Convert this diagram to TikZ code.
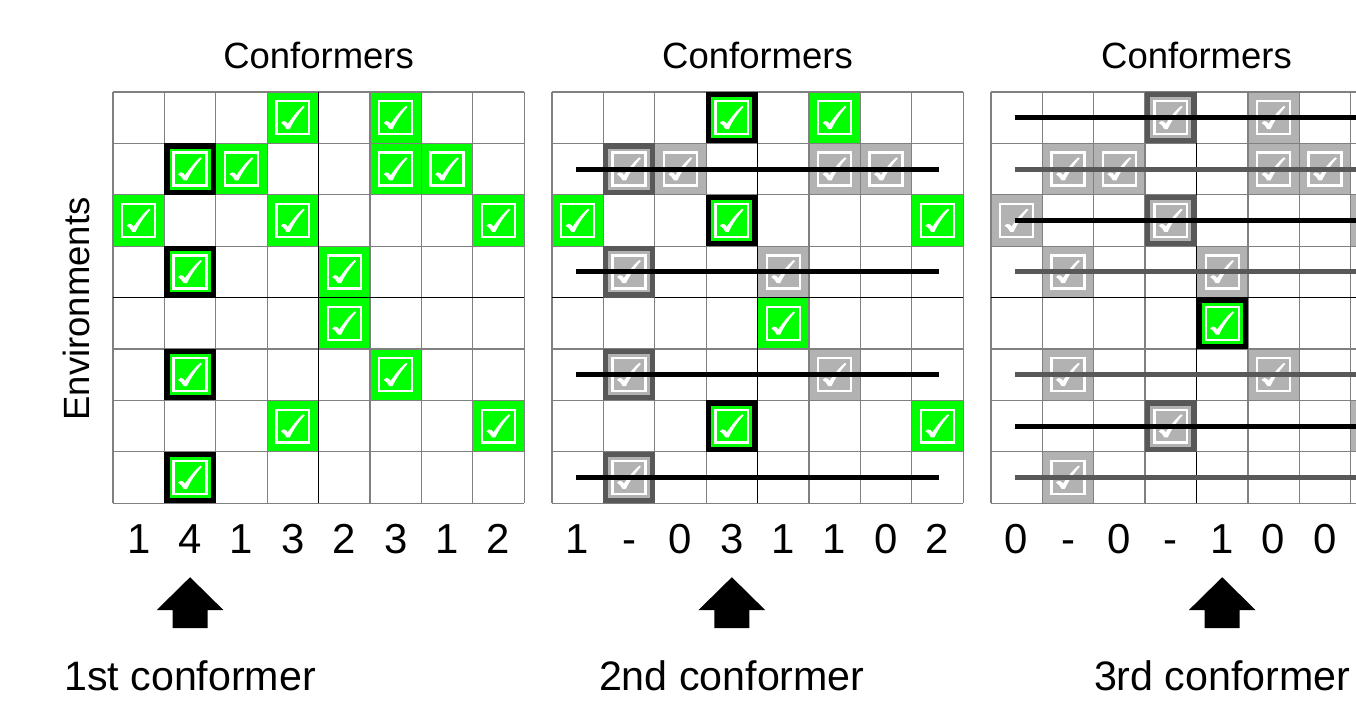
\documentclass[tikz,border=0pt]{standalone}
\usepackage{fontspec}
\setmainfont{Liberation Sans}
\usepackage{tikz}
\usetikzlibrary{positioning,calc}

\definecolor{okgreen}{RGB}{0,255,0}
\definecolor{cellgrey}{RGB}{178,178,178}
\definecolor{darkgrey}{RGB}{88,88,88}
\definecolor{gridgrey}{RGB}{128,128,128}

\tikzset{
  gridline/.style={draw=gridgrey, line width=0.7pt},
  midline/.style={draw=black, line width=0.7pt},
  pickframe/.style={draw=black, line width=0.1cm},
  oldframe/.style={draw=darkgrey, line width=0.1cm},
  strike/.style={line width=0.095cm},
  headlabel/.style={font=\fontsize{20.2}{24}\selectfont, anchor=base},
  tally/.style={font=\fontsize{23.2}{28}\selectfont, anchor=base},
  footlabel/.style={font=\fontsize{22.8}{27}\selectfont, anchor=base},
  checkbox/.pic={
    \draw[white, line width=0.045cm] (-0.32,-0.32) rectangle (0.32,0.32);
    \fill[white] (-0.235,-0.10)
      .. controls (-0.21,-0.06) and (-0.16,-0.05) .. (-0.13,-0.08)
      -- (-0.10,-0.12)
      .. controls (-0.02,-0.01) and (0.08,0.13) .. (0.20,0.23)
      -- (0.23,0.21)
      .. controls (0.11,0.08) and (0.01,-0.07) .. (-0.06,-0.22)
      -- (-0.125,-0.22)
      .. controls (-0.15,-0.17) and (-0.19,-0.12) .. (-0.235,-0.10)
      -- cycle;
  },
  uparrow/.pic={
    \fill[black] (0,0) -- (0.65,-0.64) -- (0.34,-0.64) -- (0.34,-0.99)
      -- (-0.34,-0.99) -- (-0.34,-0.64) -- (-0.65,-0.64) -- cycle;
  }
}

\begin{document}
\begin{tikzpicture}
    \useasboundingbox (-2.198,1.79) rectangle (24.183,-11.887);
    \clip (-2.198,1.79) rectangle (24.183,-11.887);

    \node[rotate=90, anchor=base, font=\fontsize{20.2}{24}\selectfont] (env) at (-0.45,-4.22) {Environments};

    % 1st round: all hits
    \def\okA{3/0,5/0,1/1,2/1,5/1,6/1,0/2,3/2,7/2,1/3,4/3,4/4,1/5,5/5,3/6,7/6,1/7}
    \begin{scope}
        \foreach \c/\r in \okA \fill[okgreen] (\c,-\r) rectangle ++(1,-1);
        \draw[gridline] (0,0) grid (8,-8);
        \draw[midline] (4,0) -- (4,-8) (0,-4) -- (8,-4);
        \foreach \c/\r in {1/1,1/3,1/5,1/7}
            \draw[pickframe] (\c+0.05,-\r-0.05) rectangle ++(0.9,-0.9);
        \foreach \c/\r in \okA \pic at (\c+0.5,-\r-0.5) {checkbox};
        \node[headlabel] (head1) at (4,0.45) {Conformers};
        \foreach \n [count=\i from 0] in {1,4,1,3,2,3,1,2}
            \node[tally] (cnt1-\i) at (\i+0.5,-8.97) {\n};
        \pic at (1.5,-9.44) {uparrow};
        \node[footlabel] (pick1) at (1.5,-11.65) {1st conformer};
    \end{scope}

    % 2nd round: rows of conformer 1 struck out
    \def\okB{3/0,5/0,0/2,3/2,7/2,4/4,3/6,7/6}
    \def\outB{1/1,2/1,5/1,6/1,1/3,4/3,1/5,5/5,1/7}
    \begin{scope}[xshift=8.54cm]
        \foreach \c/\r in \okB \fill[okgreen] (\c,-\r) rectangle ++(1,-1);
        \foreach \c/\r in \outB \fill[cellgrey] (\c,-\r) rectangle ++(1,-1);
        \draw[gridline] (0,0) grid (8,-8);
        \draw[midline] (4,0) -- (4,-8) (0,-4) -- (8,-4);
        \foreach \c/\r in {3/0,3/2,3/6}
            \draw[pickframe] (\c+0.05,-\r-0.05) rectangle ++(0.9,-0.9);
        \foreach \c/\r in {1/1,1/3,1/5,1/7}
            \draw[oldframe] (\c+0.05,-\r-0.05) rectangle ++(0.9,-0.9);
        \foreach \c/\r in \okB \pic at (\c+0.5,-\r-0.5) {checkbox};
        \foreach \c/\r in \outB \pic at (\c+0.5,-\r-0.5) {checkbox};
        \foreach \r in {1,3,5,7}
            \draw[strike, black] (0.47,-\r-0.5) -- (7.53,-\r-0.5);
        \node[headlabel] (head2) at (4,0.45) {Conformers};
        \foreach \n [count=\i from 0] in {1,-,0,3,1,1,0,2}
            \node[tally] (cnt2-\i) at (\i+0.5,-8.97) {\n};
        \pic at (3.5,-9.44) {uparrow};
        \node[footlabel] (pick2) at (3.5,-11.65) {2nd conformer};
    \end{scope}

    % 3rd round
    \def\outC{3/0,5/0,1/1,2/1,5/1,6/1,0/2,3/2,7/2,1/3,4/3,1/5,5/5,3/6,7/6,1/7}
    \begin{scope}[xshift=17.08cm]
        \fill[okgreen] (4,-4) rectangle ++(1,-1);
        \foreach \c/\r in \outC \fill[cellgrey] (\c,-\r) rectangle ++(1,-1);
        \draw[gridline] (0,0) grid (8,-8);
        \draw[midline] (4,0) -- (4,-8) (0,-4) -- (8,-4);
        \draw[pickframe] (4.05,-4.05) rectangle ++(0.9,-0.9);
        \foreach \c/\r in {3/0,3/2,3/6}
            \draw[oldframe] (\c+0.05,-\r-0.05) rectangle ++(0.9,-0.9);
        \pic at (4.5,-4.5) {checkbox};
        \foreach \c/\r in \outC \pic at (\c+0.5,-\r-0.5) {checkbox};
        \foreach \r in {0,2,6}
            \draw[strike, black] (0.47,-\r-0.5) -- (7.53,-\r-0.5);
        \foreach \r in {1,3,5,7}
            \draw[strike, darkgrey] (0.47,-\r-0.5) -- (7.53,-\r-0.5);
        \node[headlabel] (head3) at (4,0.45) {Conformers};
        \foreach \n [count=\i from 0] in {0,-,0,-,1,0,0}
            \node[tally] (cnt3-\i) at (\i+0.5,-8.97) {\n};
        \pic at (4.5,-9.44) {uparrow};
        \node[footlabel] (pick3) at (4.5,-11.65) {3rd conformer};
    \end{scope}
\end{tikzpicture}
\end{document}
